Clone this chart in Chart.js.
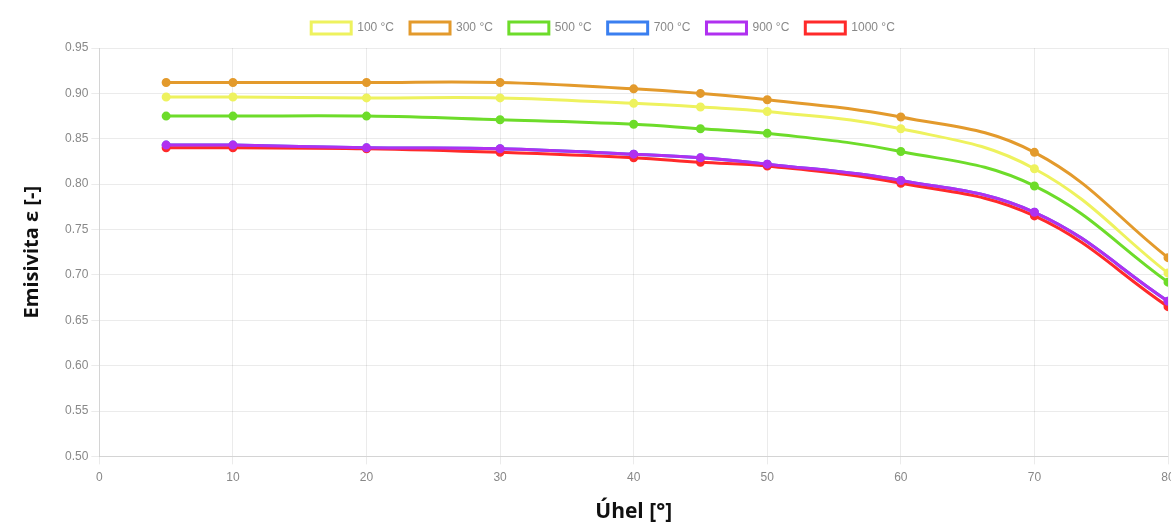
<!DOCTYPE html>
<html lang="cs">
<head>
    <meta charset="UTF-8">
    <title>Emisivita</title>
    <script src="https://cdn.jsdelivr.net/npm/chart.js"></script>
    <style>
        html, body { margin: 0; padding: 0; background: #fff; overflow: hidden; }
        .wrap { width: 1204px; height: 525px; }
    </style>
</head>
<body>

<div class="wrap">
    <canvas id="lineChart" width="1204" height="525"></canvas>
</div>

<script>
    // úhly [°]
    const angles = [5, 10, 20, 30, 40, 45, 50, 60, 70, 80];

    // emisivita pro jednotlivé teploty
    const e100  = [0.896, 0.896, 0.895, 0.895, 0.889, 0.885, 0.880, 0.861, 0.817, 0.702];
    const e300  = [0.912, 0.912, 0.912, 0.912, 0.905, 0.900, 0.893, 0.874, 0.835, 0.719];
    const e500  = [0.875, 0.875, 0.875, 0.871, 0.866, 0.861, 0.856, 0.836, 0.798, 0.692];
    const e700  = [0.843, 0.843, 0.840, 0.839, 0.833, 0.829, 0.822, 0.804, 0.769, 0.671];
    const e900  = [0.843, 0.843, 0.840, 0.839, 0.833, 0.829, 0.822, 0.804, 0.769, 0.671];
    const e1000 = [0.840, 0.840, 0.839, 0.835, 0.829, 0.824, 0.820, 0.801, 0.765, 0.665];

    const seriesLabels = ['100 °C', '300 °C', '500 °C', '700 °C', '900 °C', '1000 °C'];
    const seriesColors = ['#eef25e', '#e39a2c', '#6ddc2a', '#3a7ff0', '#b030f0', '#ff2a2a'];
    const seriesData = [e100, e300, e500, e700, e900, e1000];

    function toPoints(values) {
        return values.map((v, i) => ({ x: angles[i], y: v }));
    }

    const datasets = seriesData.map((vals, i) => ({
        label: seriesLabels[i],
        data: toPoints(vals),
        borderColor: seriesColors[i],
        backgroundColor: 'rgba(255,255,255,0)',
        pointBackgroundColor: seriesColors[i],
        pointBorderColor: seriesColors[i],
        borderWidth: 3,
        pointRadius: 3,
        tension: 0.4,
        fill: false,
        // 700 °C leží pod 900 °C
        order: i === 3 ? 1 : 0
    }));

    // legenda: trochu víc místa pod ní a posun na střed obrázku
    const legendTweak = {
        id: 'legendTweak',
        afterInit(chart) {
            const fit = chart.legend.fit;
            chart.legend.fit = function () {
                fit.call(this);
                this.height += 4;
            };
        },
        afterLayout(chart) {
            chart.legend.left += 11;
            chart.legend.right += 11;
        }
    };

    new Chart(document.getElementById('lineChart').getContext('2d'), {
        type: 'line',
        data: { datasets: datasets },
        options: {
            responsive: false,
            animation: false,
            layout: { padding: { left: 16, right: 36, top: 6, bottom: 0 } },
            plugins: {
                legend: {
                    position: 'top',
                    labels: {
                        boxWidth: 40,
                        boxHeight: 12,
                        color: '#888',
                        font: { family: 'Liberation Sans', size: 12 },
                        padding: 16,
                        sort: (a, b) => a.datasetIndex - b.datasetIndex
                    }
                },
                tooltip: { enabled: false }
            },
            scales: {
                x: {
                    type: 'linear',
                    min: 0,
                    max: 80,
                    ticks: { stepSize: 10, color: '#888', font: { family: 'Liberation Sans', size: 12 }, padding: 6 },
                    grid: { color: 'rgba(0,0,0,0.08)' },
                    title: {
                        display: true,
                        text: 'Úhel [°]',
                        color: '#111',
                        font: { family: 'Open Sans', size: 21, weight: 'bold' },
                        padding: { top: 9, bottom: 0 }
                    }
                },
                y: {
                    min: 0.5,
                    max: 0.95,
                    ticks: {
                        stepSize: 0.05,
                        color: '#888',
                        font: { family: 'Liberation Sans', size: 12 },
                        callback: v => Number(v).toFixed(2)
                    },
                    grid: { color: 'rgba(0,0,0,0.08)' },
                    title: {
                        display: true,
                        text: 'Emisivita ε [-]',
                        color: '#111',
                        font: { family: 'Open Sans', size: 20, weight: 'bold' },
                        padding: { top: 4, bottom: 18 }
                    }
                }
            }
        },
        plugins: [legendTweak]
    });
</script>

</body>
</html>
